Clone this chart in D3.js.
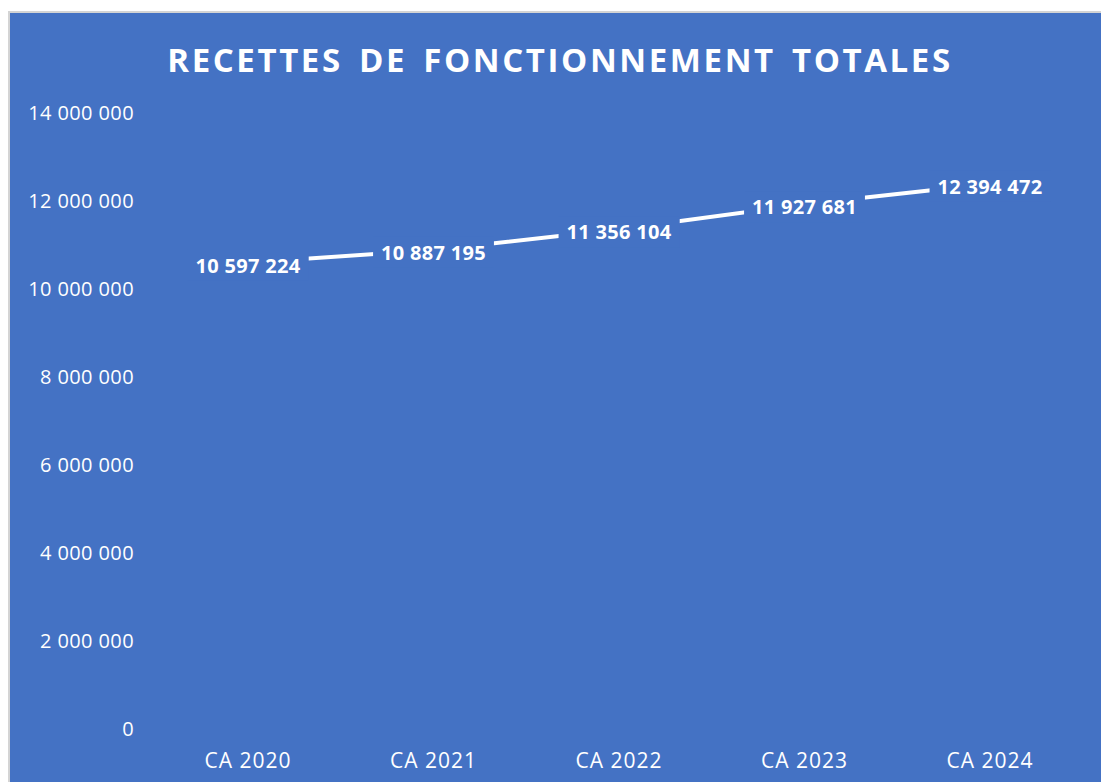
<!DOCTYPE html>
<html lang="fr">
<meta charset="utf-8">
<style>
body { margin: 0; background: #fff; }
text { font-family: "Open Sans", sans-serif; }
</style>
<body>
<div id="chart"></div>
<script src="https://d3js.org/d3.v7.min.js"></script>
<script>
// data
var categories = ["CA 2020", "CA 2021", "CA 2022", "CA 2023", "CA 2024"];
var values = [10597224, 10887195, 11356104, 11927681, 12394472];
var yTicks = [0, 2000000, 4000000, 6000000, 8000000, 10000000, 12000000, 14000000];

var width = 1101, height = 782;
var blue = "#4472C4";

var fmt = function(v) {
  return d3.format(",")(v).replace(/,/g, " ");
};

var svg = d3.select("#chart").append("svg")
    .attr("width", width)
    .attr("height", height);

// chart area with grey border
svg.append("rect")
    .attr("x", 9).attr("y", 12)
    .attr("width", width).attr("height", height)
    .attr("fill", blue)
    .attr("stroke", "#d4d4d4")
    .attr("stroke-width", 2);

svg.append("text")
    .attr("x", 560).attr("y", 72)
    .attr("text-anchor", "middle")
    .style("font-size", "33px")
    .style("font-weight", "bold")
    .style("letter-spacing", "2.6px")
    .style("word-spacing", "5px")
    .attr("fill", "#fff")
    .text("RECETTES DE FONCTIONNEMENT TOTALES");

var x = d3.scalePoint()
    .domain(categories)
    .range([248, 990]);

var y = d3.scaleLinear()
    .domain([0, 14000000])
    .range([729, 113]);

// y axis labels
svg.append("g").selectAll("text")
    .data(yTicks)
  .enter().append("text")
    .attr("x", 134)
    .attr("y", function(d) { return y(d); })
    .attr("dy", "0.35em")
    .attr("text-anchor", "end")
    .attr("fill", "#fff")
    .style("font-size", "20px")
    .style("letter-spacing", "0.4px")
    .text(fmt);

// x axis labels
svg.append("g").selectAll("text")
    .data(categories)
  .enter().append("text")
    .attr("x", function(d) { return x(d); })
    .attr("y", 768)
    .attr("text-anchor", "middle")
    .attr("fill", "#fff")
    .style("font-size", "21px")
    .style("letter-spacing", "1px")
    .text(function(d) { return d; });

var data = categories.map(function(c, i) { return {cat: c, value: values[i]}; });

var line = d3.line()
    .x(function(d) { return x(d.cat); })
    .y(function(d) { return y(d.value); });

svg.append("path")
    .datum(data)
    .attr("d", line)
    .attr("fill", "none")
    .attr("stroke", "#fff")
    .attr("stroke-width", 4);

// data labels with blue box hiding the line
var lab = svg.append("g").selectAll("g")
    .data(data)
  .enter().append("g")
    .attr("transform", function(d) { return "translate(" + x(d.cat) + "," + y(d.value) + ")"; });

lab.append("text")
    .attr("text-anchor", "middle")
    .attr("dy", "0.5em")
    .attr("fill", "#fff")
    .style("font-size", "20px")
    .style("font-weight", "bold")
    .style("letter-spacing", "0.3px")
    .text(function(d) { return fmt(d.value); });

lab.insert("rect", "text")
    .each(function() {
      var bb = this.parentNode.querySelector("text").getBBox();
      d3.select(this)
        .attr("x", bb.x - 8).attr("y", bb.y - 2)
        .attr("width", bb.width + 16).attr("height", bb.height + 4);
    })
    .attr("fill", blue);
</script>
</body>
</html>
